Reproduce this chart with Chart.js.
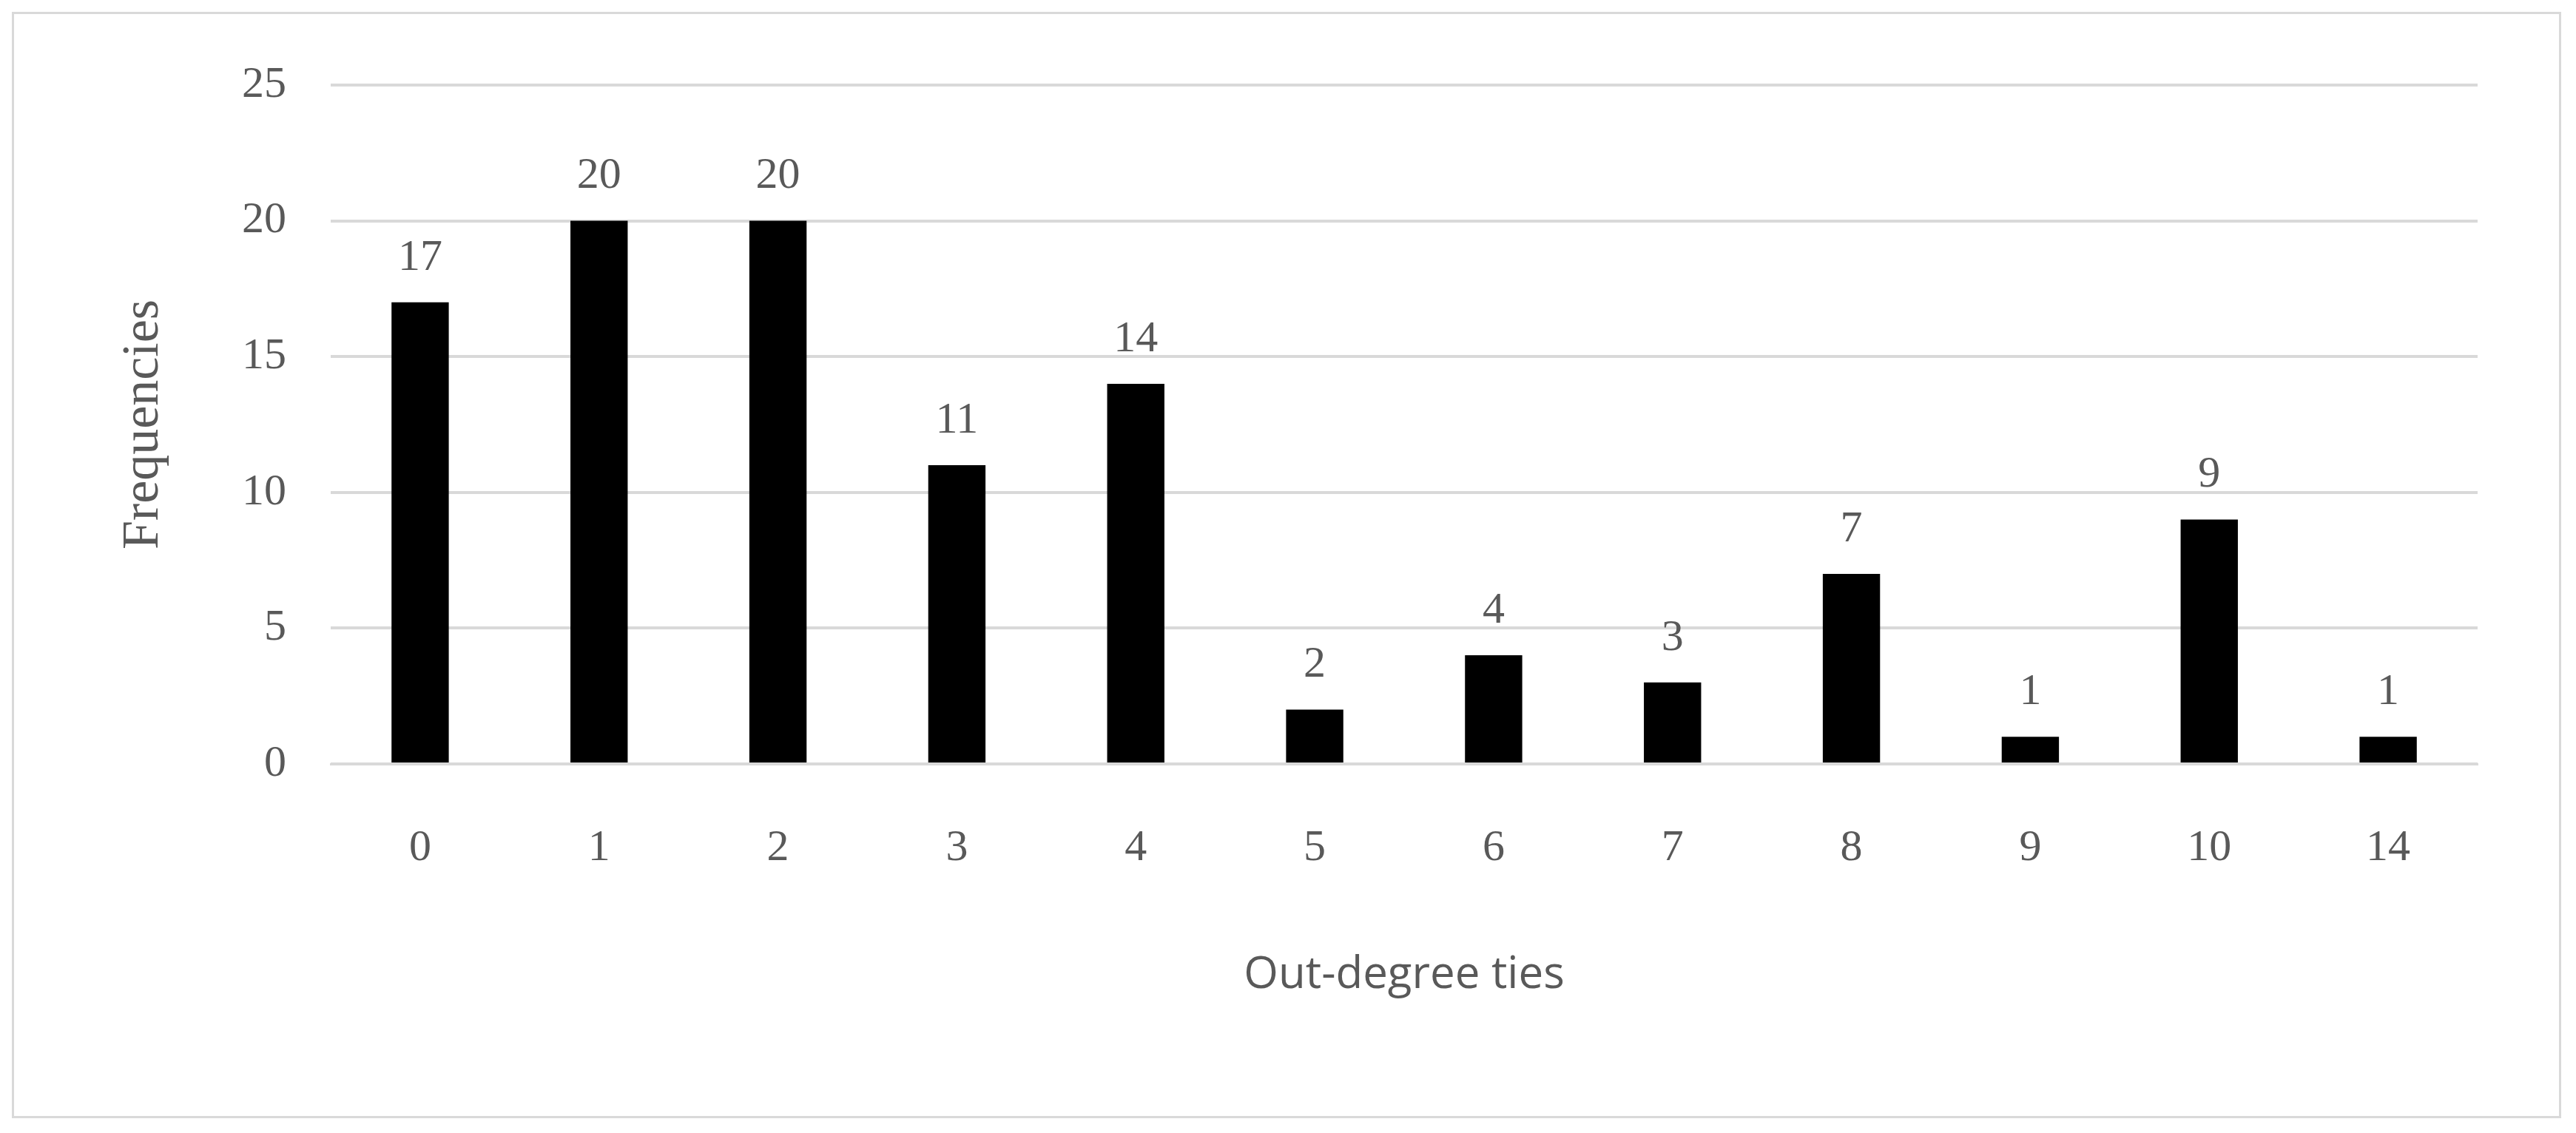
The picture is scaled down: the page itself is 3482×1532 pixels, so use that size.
<!DOCTYPE html>
<html>
<head>
<meta charset="utf-8">
<script src="https://cdn.jsdelivr.net/npm/chart.js@4/dist/chart.umd.min.js"></script>
<style>
html,body{margin:0;padding:0;background:#fff;}
#wrap{position:absolute;left:16px;top:16px;width:3446px;height:1496px;border:3px solid #d9d9d9;box-sizing:border-box;}
</style>
</head>
<body>
<div id="wrap"><canvas id="c"></canvas></div>
<script>
const categories = ['0','1','2','3','4','5','6','7','8','9','10','14'];
const frequencies = [17,20,20,11,14,2,4,3,7,1,9,1];
const yTicks = [0,5,10,15,20,25];

// value labels above bars
const barLabels = {
    id: 'barLabels',
    afterDatasetsDraw(chart) {
        const ctx = chart.ctx;
        const meta = chart.getDatasetMeta(0);
        ctx.save();
        ctx.font = '60px "Liberation Serif", serif';
        ctx.fillStyle = '#595959';
        ctx.textAlign = 'center';
        ctx.textBaseline = 'bottom';
        meta.data.forEach((bar, i) => {
            ctx.fillText(String(frequencies[i]), bar.x, bar.y - 30);
        });
        ctx.restore();
    }
};

new Chart(document.getElementById('c'), {
    type: 'bar',
    data: { labels: categories, datasets: [{ data: frequencies, backgroundColor: '#000', barPercentage: 0.32, categoryPercentage: 1 }] },
    options: {
        responsive: true, maintainAspectRatio: false, animation: false,
        layout: { padding: { left: 130, right: 110, top: 85, bottom: 150 } },
        plugins: { legend: { display: false }, tooltip: { enabled: false } },
        scales: {
            x: {
                grid: { display: false },
                border: { color: '#d9d9d9', width: 3 },
                ticks: { color: '#595959', font: { family: '"Liberation Serif", serif', size: 60 }, padding: 70 },
                title: { display: true, text: 'Out-degree ties', color: '#595959', font: { family: '"Open Sans", sans-serif', size: 60 }, padding: { top: 30 } }
            },
            y: {
                min: 0, max: 25,
                afterBuildTicks: ax => { ax.ticks = yTicks.map(v => ({ value: v })); },
                grid: { color: '#d9d9d9', lineWidth: 4, drawTicks: false },
                border: { display: false },
                ticks: { color: '#595959', font: { family: '"Liberation Serif", serif', size: 60 }, padding: 60 },
                title: { display: true, text: 'Frequencies', color: '#595959', font: { family: '"Liberation Serif", serif', size: 70 }, padding: { bottom: 30 } }
            }
        }
    },
    plugins: [barLabels]
});
</script>
</body>
</html>
